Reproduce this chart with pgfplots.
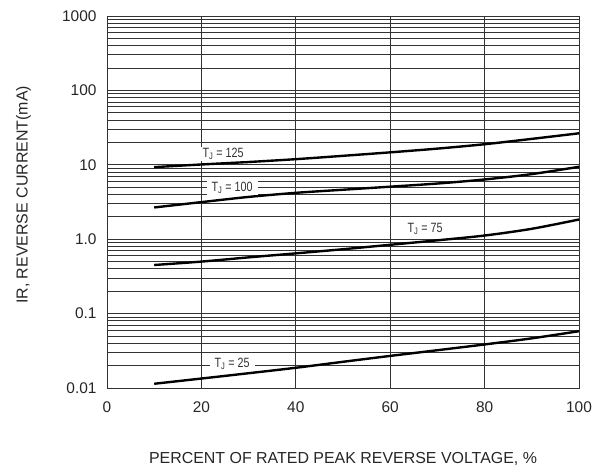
\documentclass[border=0pt]{standalone}
\usepackage{pgfplots}
\pgfplotsset{compat=1.18}
\usepackage{fontspec}
\setmainfont{Liberation Sans}
\newfontfamily\narrow[FakeStretch=0.8]{Liberation Sans}

\begin{document}
\begin{tikzpicture}[x=1bp,y=1bp]
  \path[use as bounding box] (0,0) rectangle (602,469);
  \begin{axis}[
      at={(107bp,81bp)}, anchor=south west,
      scale only axis,
      width=472bp, height=372bp,
      ymode=log,
      xmin=0, xmax=100,
      ymin=0.01, ymax=1000,
      xtick={0,20,40,60,80,100},
      ytick={0.01,0.1,1,10,100,1000},
      yticklabels={0.01,0.1,1.0,10,100,1000},
      /pgf/number format/assume math mode=true,
      tick label style={font=\fontsize{15.5}{17}\selectfont, text=black!85},
      xticklabel style={yshift=-10bp},
      yticklabel style={xshift=-7bp},
      major tick length=0pt, minor tick length=0pt,
      grid=both,
      major grid style={black!80, line width=0.8pt},
      minor grid style={black!80, line width=0.8pt},
      axis line style={black!80, line width=0.9pt},
      xlabel={PERCENT OF RATED PEAK REVERSE VOLTAGE, \%},
      ylabel={IR, REVERSE CURRENT(mA)},
      label style={font=\fontsize{16}{18}\selectfont, text=black!85},
      xlabel style={at={(axis description cs:0.5,-0.19)}, anchor=center},
      ylabel style={at={(axis description cs:-0.177,0.519)}, anchor=center},
      clip=false,
    ]
    % T_J = 125
    \addplot[black, line width=2.4pt, smooth] coordinates {(10,9.3) (20,10.1) (30,10.9) (40,11.9) (50,13.2)
      (60,14.7) (70,16.5) (80,18.9) (90,22.3) (100,26.5)};
    % T_J = 100
    \addplot[black, line width=2.4pt, smooth] coordinates {(10,2.67) (20,3.15) (30,3.7) (40,4.2) (50,4.62)
      (60,5.08) (70,5.6) (80,6.35) (90,7.5) (100,9.4)};
    % T_J = 75
    \addplot[black, line width=2.4pt, smooth] coordinates {(10,0.45) (20,0.50) (30,0.57) (40,0.645) (50,0.733)
      (60,0.841) (70,0.966) (80,1.12) (90,1.38) (100,1.84)};
    % T_J = 25
    \addplot[black, line width=2.4pt, smooth] coordinates {(10,0.0114) (20,0.0134) (30,0.0158) (40,0.0187) (50,0.0225)
      (60,0.027) (70,0.0322) (80,0.0385) (90,0.0465) (100,0.058)};

    \tikzset{tj/.style={fill=white, inner xsep=3bp, inner ysep=1bp,
        font=\narrow\fontsize{13.5}{14}\selectfont, text=black!80}}
    \node[tj] at (axis cs:24.6,14.0) {T\textsubscript{J} = 125};
    \node[tj, inner xsep=5bp] at (axis cs:26.5,4.92) {T\textsubscript{J} = 100};
    \node[tj] at (axis cs:67.4,1.39) {T\textsubscript{J} = 75};
    \node[tj, inner xsep=5bp] at (axis cs:26.5,0.0211) {T\textsubscript{J} = 25};
  \end{axis}
\end{tikzpicture}
\end{document}
